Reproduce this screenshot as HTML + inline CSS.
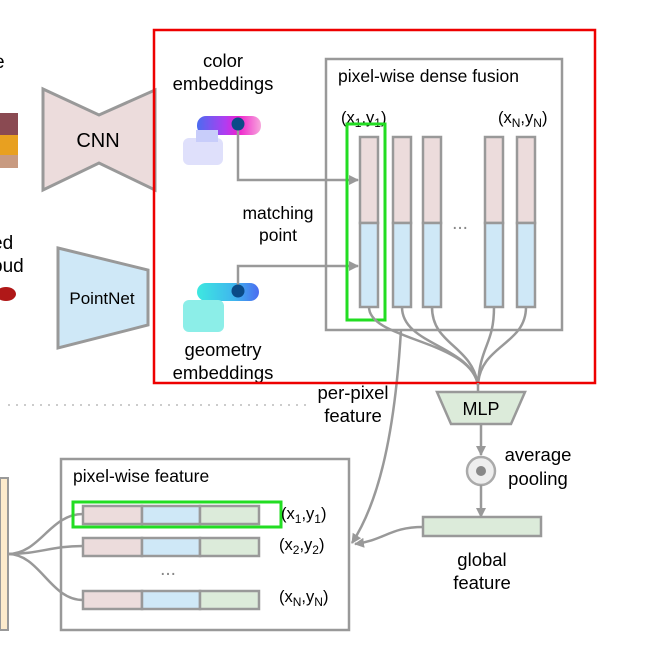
<!DOCTYPE html>
<html><head><meta charset="utf-8"><style>
body{margin:0;background:#fff;}
svg{display:block;font-family:"Liberation Sans",sans-serif;}
</style></head><body>
<svg width="649" height="653" viewBox="0 0 649 653" xmlns="http://www.w3.org/2000/svg">
<defs>
<linearGradient id="cg" x1="0" x2="1"><stop offset="0" stop-color="#4b6cf0"/><stop offset="0.45" stop-color="#b23cf0"/><stop offset="0.65" stop-color="#ee22cc"/><stop offset="1" stop-color="#f7a8dc"/></linearGradient>
<linearGradient id="gg" x1="0" x2="1"><stop offset="0" stop-color="#3ee8e0"/><stop offset="0.6" stop-color="#3fb6ee"/><stop offset="1" stop-color="#4b6cf0"/></linearGradient>
<marker id="ar" markerWidth="10" markerHeight="10" refX="9" refY="5" orient="auto" markerUnits="userSpaceOnUse"><path d="M0,0 L10,5 L0,10 z" fill="#999"/></marker>
</defs>
<!-- left partial -->
<text x="-6" y="68" font-size="19">e</text>
<rect x="0" y="113" width="18" height="55" fill="#8a4a52"/>
<rect x="0" y="135" width="18" height="20" fill="#e8a020"/>
<rect x="0" y="155" width="18" height="13" fill="#c89a80"/>
<text x="-8" y="249" font-size="19">ed</text>
<text x="-8" y="272" font-size="19">oud</text>
<ellipse cx="6" cy="294" rx="10" ry="7" fill="#b01818"/>
<!-- CNN -->
<polygon points="43,89 99,115 155,90 155,190 99,163 43,190" fill="#ecdcdc" stroke="#999" stroke-width="3"/>
<text x="98" y="147" font-size="20" text-anchor="middle">CNN</text>
<polygon points="58,248 148,270 148,325 58,348" fill="#cfe8f7" stroke="#999" stroke-width="3"/>
<text x="102" y="304" font-size="17" text-anchor="middle">PointNet</text>
<!-- embeddings -->
<text x="223" y="67" font-size="18.5" text-anchor="middle">color</text>
<text x="223" y="90" font-size="18.5" text-anchor="middle">embeddings</text>
<rect x="197" y="116" width="64" height="19" rx="9" fill="url(#cg)"/>
<rect x="183" y="138" width="40" height="27" rx="6" fill="#dfe0fb"/>
<rect x="196" y="130" width="22" height="12" fill="#c8cdfa"/>
<text x="278" y="219" font-size="17.5" text-anchor="middle">matching</text>
<text x="278" y="241" font-size="17.5" text-anchor="middle">point</text>
<rect x="197" y="283" width="62" height="18" rx="9" fill="url(#gg)"/>
<rect x="183" y="300" width="41" height="32" rx="6" fill="#8ceee8"/>
<text x="223" y="356" font-size="18.5" text-anchor="middle">geometry</text>
<text x="223" y="379" font-size="18.5" text-anchor="middle">embeddings</text>
<polyline points="238,124 238,180 358,180" fill="none" stroke="#999" stroke-width="2.5" marker-end="url(#ar)"/>
<polyline points="238,291 238,266 358,266" fill="none" stroke="#999" stroke-width="2.5" marker-end="url(#ar)"/>
<circle cx="238" cy="124" r="6.5" fill="#0a4b87"/>
<circle cx="238" cy="291" r="6.5" fill="#0a4b87"/>
<!-- fusion box -->
<rect x="326" y="59" width="236" height="271" fill="none" stroke="#999" stroke-width="2.5"/>
<text x="338" y="82" font-size="17.5">pixel-wise dense fusion</text>
<text x="341" y="123" font-size="16.5">(x<tspan font-size="12" dy="4">1</tspan><tspan dy="-4">,y</tspan><tspan font-size="12" dy="4">1</tspan><tspan dy="-4">)</tspan></text>
<text x="498" y="123" font-size="16.5">(x<tspan font-size="12" dy="4">N</tspan><tspan dy="-4">,y</tspan><tspan font-size="12" dy="4">N</tspan><tspan dy="-4">)</tspan></text>
<g stroke="#999" stroke-width="2.5">
<rect x="360" y="137" width="18" height="86" fill="#ecdcdc"/><rect x="360" y="223" width="18" height="84" fill="#cfe8f7"/>
<rect x="393" y="137" width="18" height="86" fill="#ecdcdc"/><rect x="393" y="223" width="18" height="84" fill="#cfe8f7"/>
<rect x="423" y="137" width="18" height="86" fill="#ecdcdc"/><rect x="423" y="223" width="18" height="84" fill="#cfe8f7"/>
<rect x="485" y="137" width="18" height="86" fill="#ecdcdc"/><rect x="485" y="223" width="18" height="84" fill="#cfe8f7"/>
<rect x="517" y="137" width="18" height="86" fill="#ecdcdc"/><rect x="517" y="223" width="18" height="84" fill="#cfe8f7"/>
</g>
<text x="460" y="229" font-size="19" fill="#888" text-anchor="middle">...</text>
<rect x="347" y="124" width="38" height="196" fill="none" stroke="#22dd22" stroke-width="3"/>
<g fill="none" stroke="#999" stroke-width="2.5">
<path d="M369,307 C369,340 470,340 478,385"/>
<path d="M402,307 C402,345 470,345 478,385"/>
<path d="M432,307 C432,345 472,345 478,385"/>
<path d="M494,307 C494,345 480,345 478,385"/>
<path d="M526,307 C526,345 480,345 478,385"/>
<path d="M401,330 C395,430 380,500 352,543" marker-end="url(#ar)"/>
</g>
<rect x="154" y="30" width="441" height="353" fill="none" stroke="#ee0000" stroke-width="2.5"/>
<line x1="478" y1="383" x2="478" y2="393" stroke="#999" stroke-width="2.5"/>
<!-- dotted -->
<line x1="8" y1="405" x2="310" y2="405" stroke="#ccc" stroke-width="2" stroke-dasharray="2,6"/>
<text x="353" y="399" font-size="18.5" text-anchor="middle">per-pixel</text>
<text x="353" y="422" font-size="18.5" text-anchor="middle">feature</text>
<!-- MLP -->
<polygon points="437,392 525,392 511,424 451,424" fill="#dcebda" stroke="#999" stroke-width="2.5"/>
<text x="481" y="415" font-size="18" text-anchor="middle">MLP</text>
<line x1="481" y1="424" x2="481" y2="455" stroke="#999" stroke-width="2.5" marker-end="url(#ar)"/>
<circle cx="481" cy="471" r="14" fill="#eee" stroke="#aaa" stroke-width="2.5"/>
<circle cx="481" cy="471" r="5" fill="#888"/>
<text x="538" y="461" font-size="18.5" text-anchor="middle">average</text>
<text x="538" y="485" font-size="18.5" text-anchor="middle">pooling</text>
<line x1="481" y1="485" x2="481" y2="517" stroke="#999" stroke-width="2.5" marker-end="url(#ar)"/>
<rect x="423" y="517" width="118" height="19" fill="#dcebda" stroke="#999" stroke-width="2.5"/>
<text x="482" y="566" font-size="18.5" text-anchor="middle">global</text>
<text x="482" y="589" font-size="18.5" text-anchor="middle">feature</text>
<path d="M423,527 C390,527 385,540 355,544" fill="none" stroke="#999" stroke-width="2.5" marker-end="url(#ar)"/>
<!-- pixel-wise feature -->
<rect x="0" y="478" width="8" height="152" fill="#fdebcc" stroke="#999" stroke-width="2"/>
<rect x="61" y="459" width="288" height="171" fill="none" stroke="#999" stroke-width="2.5"/>
<text x="73" y="482" font-size="17.5">pixel-wise feature</text>
<g stroke="#999" stroke-width="2.5">
<rect x="83" y="506" width="59" height="18" fill="#ecdcdc"/><rect x="142" y="506" width="58" height="18" fill="#cfe8f7"/><rect x="200" y="506" width="59" height="18" fill="#dcebda"/>
<rect x="83" y="538" width="59" height="18" fill="#ecdcdc"/><rect x="142" y="538" width="58" height="18" fill="#cfe8f7"/><rect x="200" y="538" width="59" height="18" fill="#dcebda"/>
<rect x="83" y="591" width="59" height="18" fill="#ecdcdc"/><rect x="142" y="591" width="58" height="18" fill="#cfe8f7"/><rect x="200" y="591" width="59" height="18" fill="#dcebda"/>
</g>
<g fill="none" stroke="#999" stroke-width="2.5">
<path d="M8,554 C40,554 50,514 83,514"/>
<path d="M8,554 C40,554 50,546 83,546"/>
<path d="M8,554 C40,554 50,600 83,600"/>
</g>
<text x="168" y="575" font-size="19" fill="#888" text-anchor="middle">...</text>
<rect x="73" y="502" width="208" height="25" fill="none" stroke="#22dd22" stroke-width="3"/>
<text x="281" y="519" font-size="16.5">(x<tspan font-size="12" dy="4">1</tspan><tspan dy="-4">,y</tspan><tspan font-size="12" dy="4">1</tspan><tspan dy="-4">)</tspan></text>
<text x="279" y="550" font-size="16.5">(x<tspan font-size="12" dy="4">2</tspan><tspan dy="-4">,y</tspan><tspan font-size="12" dy="4">2</tspan><tspan dy="-4">)</tspan></text>
<text x="279" y="602" font-size="16.5">(x<tspan font-size="12" dy="4">N</tspan><tspan dy="-4">,y</tspan><tspan font-size="12" dy="4">N</tspan><tspan dy="-4">)</tspan></text>
</svg>
</body></html>
